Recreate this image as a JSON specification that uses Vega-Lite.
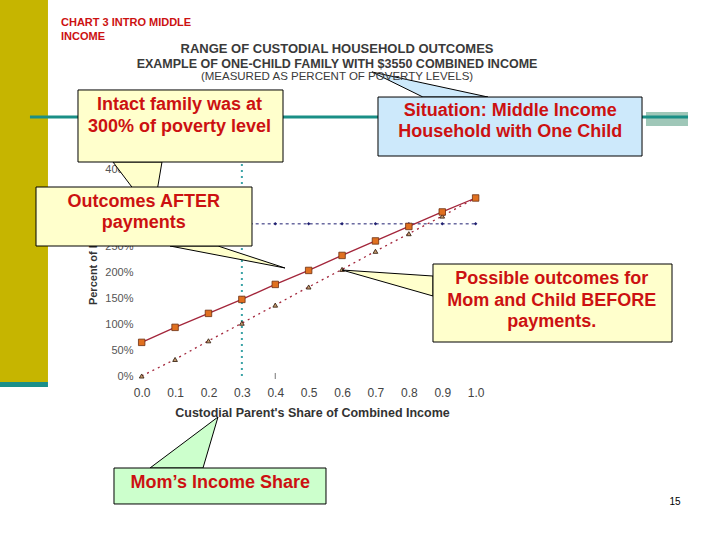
{
  "$schema": "https://vega.github.io/schema/vega-lite/v6.json",
  "description": "Range of custodial household outcomes, one-child family with $3550 combined income.",
  "autosize": {"type": "none"},
  "padding": {"left": 135, "top": 169, "right": 231, "bottom": 164},
  "width": 354,
  "height": 207,
  "background": "white",
  "config": {
    "view": {"stroke": null},
    "font": "Liberation Sans",
    "axis": {"grid": false, "ticks": false, "domain": false, "labelOverlap": false}
  },
  "data": {
    "values": [
      {"share": 0.0, "after": 65, "before": 0, "intact": 294},
      {"share": 0.1, "after": 94, "before": 32, "intact": 294},
      {"share": 0.2, "after": 121, "before": 68, "intact": 294},
      {"share": 0.3, "after": 148, "before": 102, "intact": 294},
      {"share": 0.4, "after": 177, "before": 137, "intact": 294},
      {"share": 0.5, "after": 204, "before": 172, "intact": 294},
      {"share": 0.6, "after": 233, "before": 206, "intact": 294},
      {"share": 0.7, "after": 261, "before": 241, "intact": 294},
      {"share": 0.8, "after": 289, "before": 275, "intact": 294},
      {"share": 0.9, "after": 317, "before": 309, "intact": 294},
      {"share": 1.0, "after": 344, "before": 344, "intact": 294}
    ]
  },
  "datasets": {
    "pointers": [
      {"id": "intact", "sx": -0.0859, "top": 413.5, "bottom": 413.5},
      {"id": "intact", "sx": 0.0339, "top": 413.5, "bottom": 311.1},
      {"id": "intact", "sx": 0.0608, "top": 413.5, "bottom": 413.5},
      {"id": "outcomes", "sx": 0.0848, "top": 251.2, "bottom": 251.2},
      {"id": "outcomes", "sx": 0.2286, "top": 251.2, "bottom": 233.4},
      {"id": "outcomes", "sx": 0.4291, "top": 208.7, "bottom": 208.7},
      {"id": "possible", "sx": 0.5998, "top": 204.8, "bottom": 204.8},
      {"id": "possible", "sx": 0.8723, "top": 193.2, "bottom": 154.6},
      {"id": "situation", "sx": 0.6895, "top": 587.5, "bottom": 587.5},
      {"id": "situation", "sx": 0.8422, "top": 566.2, "bottom": 539.1},
      {"id": "situation", "sx": 1.0368, "top": 539.1, "bottom": 539.1},
      {"id": "mom", "sx": 0.0249, "top": -177.8, "bottom": -177.8},
      {"id": "mom", "sx": 0.1836, "top": -101.0, "bottom": -177.8},
      {"id": "mom", "sx": 0.2285, "top": -79.2, "bottom": -79.2}
    ]
  },
  "layer": [
    {
      "data": {"values": [{}]},
      "mark": {"type": "rect", "fill": "#c6b500"},
      "encoding": {
        "x": {
          "datum": -0.4243,
          "type": "quantitative",
          "scale": {"domain": [-0.02, 1.04], "nice": false, "zero": false},
          "axis": {
            "title": "Custodial Parent's Share of Combined Income",
            "values": [0, 0.1, 0.2, 0.3, 0.4, 0.5, 0.6, 0.7, 0.8, 0.9, 1.0],
            "tickCount": 11,
            "format": ".1f",
            "tickSize": 0,
            "labelOverlap": false,
            "labelPadding": 11,
            "labelFontSize": 12,
            "labelColor": "#444444",
            "titleFontSize": 12.5,
            "titleFontWeight": "bold",
            "titleColor": "#333333",
            "titlePadding": 8
          }
        },
        "x2": {"datum": -0.2806},
        "y": {
          "datum": 726.6,
          "type": "quantitative",
          "scale": {"domain": [0, 400], "nice": false, "zero": false},
          "axis": {
            "title": "Percent of Poverty",
            "values": [0, 50, 100, 150, 200, 250, 400],
            "tickCount": 9,
            "labelExpr": "datum.value + '%'",
            "tickSize": 0,
            "labelOverlap": false,
            "labelPadding": 2,
            "labelFontSize": 11,
            "labelColor": "#555555",
            "titleFontSize": 11,
            "titleFontWeight": "bold",
            "titleColor": "#333333",
            "titleAngle": -90,
            "titleAlign": "center",
            "titleBaseline": "middle",
            "titleX": -42,
            "titleY": 87
          }
        },
        "y2": {"datum": -11.6}
      }
    },
    {
      "data": {"values": [{}]},
      "mark": {"type": "rect", "fill": "#1b8f8a"},
      "encoding": {
        "x": {"datum": -0.4243, "type": "quantitative"},
        "x2": {"datum": -0.2806},
        "y": {"datum": -11.6, "type": "quantitative"},
        "y2": {"datum": -21.3}
      }
    },
    {
      "data": {"values": [{}]},
      "mark": {"type": "rect", "fill": "#9fc7b8"},
      "encoding": {
        "x": {"datum": 1.5101, "type": "quantitative"},
        "x2": {"datum": 1.6359},
        "y": {"datum": 510.2, "type": "quantitative"},
        "y2": {"datum": 483.1}
      }
    },
    {
      "data": {"values": [{}]},
      "mark": {"type": "rule", "stroke": "#1a8f86", "strokeWidth": 3},
      "encoding": {
        "x": {"datum": -0.3345, "type": "quantitative"},
        "x2": {"datum": 1.6359},
        "y": {"datum": 500.5, "type": "quantitative"}
      }
    },
    {
      "data": {"values": [{}]},
      "mark": {"type": "rule", "stroke": "#3aa3a6", "strokeWidth": 2, "strokeDash": [2, 4]},
      "encoding": {
        "x": {"datum": 0.3, "type": "quantitative"},
        "y": {"datum": 0, "type": "quantitative"},
        "y2": {"datum": 420}
      }
    },
    {
      "data": {"values": [{}]},
      "mark": {"type": "rule", "stroke": "#777777", "strokeWidth": 1},
      "encoding": {
        "x": {"datum": 0.4, "type": "quantitative"},
        "y": {"datum": 5.8, "type": "quantitative"},
        "y2": {"datum": -5.8}
      }
    },
    {
      "mark": {"type": "line", "stroke": "#1f1f70", "strokeWidth": 1, "strokeDash": [3, 3]},
      "encoding": {
        "x": {"field": "share", "type": "quantitative"},
        "y": {"field": "intact", "type": "quantitative"}
      }
    },
    {
      "mark": {"type": "point", "shape": "diamond", "size": 12, "filled": true, "color": "#1f1f70", "opacity": 1},
      "encoding": {
        "x": {"field": "share", "type": "quantitative"},
        "y": {"field": "intact", "type": "quantitative"}
      }
    },
    {
      "mark": {"type": "line", "stroke": "#a3263b", "strokeWidth": 1.3, "strokeDash": [2, 4]},
      "encoding": {
        "x": {"field": "share", "type": "quantitative"},
        "y": {"field": "before", "type": "quantitative"}
      }
    },
    {
      "mark": {"type": "point", "shape": "triangle-up", "size": 22, "filled": true, "fill": "#c89c70", "stroke": "#3a2515", "strokeWidth": 0.9, "opacity": 1},
      "encoding": {
        "x": {"field": "share", "type": "quantitative"},
        "y": {"field": "before", "type": "quantitative"}
      }
    },
    {
      "mark": {"type": "line", "stroke": "#a3263b", "strokeWidth": 1.3},
      "encoding": {
        "x": {"field": "share", "type": "quantitative"},
        "y": {"field": "after", "type": "quantitative"}
      }
    },
    {
      "mark": {"type": "point", "shape": "square", "size": 42, "filled": true, "fill": "#e07020", "stroke": "#6b2e12", "strokeWidth": 0.8, "opacity": 1},
      "encoding": {
        "x": {"field": "share", "type": "quantitative"},
        "y": {"field": "after", "type": "quantitative"}
      }
    },
    {
      "data": {"name": "pointers"},
      "transform": [{"filter": {"field": "id", "oneOf": ["intact", "outcomes", "possible"]}}],
      "mark": {"type": "area", "orient": "vertical", "fill": "#ffffcc", "stroke": "black", "strokeWidth": 1, "opacity": 1, "fillOpacity": 1},
      "encoding": {
        "x": {"field": "sx", "type": "quantitative"},
        "y": {"field": "top", "type": "quantitative"},
        "y2": {"field": "bottom"},
        "detail": {"field": "id"}
      }
    },
    {
      "data": {"name": "pointers"},
      "transform": [{"filter": {"field": "id", "equal": "situation"}}],
      "mark": {"type": "area", "orient": "vertical", "fill": "#cde9fb", "stroke": "black", "strokeWidth": 1, "opacity": 1, "fillOpacity": 1},
      "encoding": {
        "x": {"field": "sx", "type": "quantitative"},
        "y": {"field": "top", "type": "quantitative"},
        "y2": {"field": "bottom"}
      }
    },
    {
      "data": {"name": "pointers"},
      "transform": [{"filter": {"field": "id", "equal": "mom"}}],
      "mark": {"type": "area", "orient": "vertical", "fill": "#ccffcc", "stroke": "black", "strokeWidth": 1, "opacity": 1, "fillOpacity": 1},
      "encoding": {
        "x": {"field": "sx", "type": "quantitative"},
        "y": {"field": "top", "type": "quantitative"},
        "y2": {"field": "bottom"}
      }
    },
    {
      "data": {"values": [{}]},
      "mark": {"type": "rect", "fill": "#ffffcc", "stroke": "black", "strokeWidth": 1},
      "encoding": {
        "x": {"datum": -0.1907, "type": "quantitative"},
        "x2": {"datum": 0.4232},
        "y": {"datum": 552.7, "type": "quantitative"},
        "y2": {"datum": 413.5}
      }
    },
    {
      "data": {"values": [{}]},
      "mark": {"type": "rect", "fill": "#cde9fb", "stroke": "black", "strokeWidth": 1},
      "encoding": {
        "x": {"datum": 0.7076, "type": "quantitative"},
        "x2": {"datum": 1.4982},
        "y": {"datum": 539.1, "type": "quantitative"},
        "y2": {"datum": 425.1}
      }
    },
    {
      "data": {"values": [{}]},
      "mark": {"type": "rect", "fill": "#ffffcc", "stroke": "black", "strokeWidth": 1},
      "encoding": {
        "x": {"datum": -0.3164, "type": "quantitative"},
        "x2": {"datum": 0.3303},
        "y": {"datum": 365.2, "type": "quantitative"},
        "y2": {"datum": 251.2}
      }
    },
    {
      "data": {"values": [{}]},
      "mark": {"type": "rect", "fill": "#ffffcc", "stroke": "black", "strokeWidth": 1},
      "encoding": {
        "x": {"datum": 0.8723, "type": "quantitative"},
        "x2": {"datum": 1.588},
        "y": {"datum": 216.4, "type": "quantitative"},
        "y2": {"datum": 65.7}
      }
    },
    {
      "data": {"values": [{}]},
      "mark": {"type": "rect", "fill": "#ccffcc", "stroke": "black", "strokeWidth": 1},
      "encoding": {
        "x": {"datum": -0.0829, "type": "quantitative"},
        "x2": {"datum": 0.5519},
        "y": {"datum": -177.8, "type": "quantitative"},
        "y2": {"datum": -247.3}
      }
    },
    {
      "data": {"values": [{}]},
      "mark": {"type": "text", "text": ["Intact family was at", "300% of poverty level"], "align": "center", "baseline": "middle", "fontSize": 18, "fontWeight": "bold", "color": "#cc1111", "lineHeight": 22},
      "encoding": {
        "x": {"datum": 0.1132, "type": "quantitative"},
        "y": {"datum": 523.7, "type": "quantitative"}
      }
    },
    {
      "data": {"values": [{}]},
      "mark": {"type": "text", "text": ["Situation: Middle Income", "Household with One Child"], "align": "center", "baseline": "middle", "fontSize": 18, "fontWeight": "bold", "color": "#cc1111", "lineHeight": 21},
      "encoding": {
        "x": {"datum": 1.1035, "type": "quantitative"},
        "y": {"datum": 512.1, "type": "quantitative"}
      }
    },
    {
      "data": {"values": [{}]},
      "mark": {"type": "text", "text": ["Outcomes AFTER", "payments"], "align": "center", "baseline": "middle", "fontSize": 18, "fontWeight": "bold", "color": "#cc1111", "lineHeight": 21},
      "encoding": {
        "x": {"datum": 0.0063, "type": "quantitative"},
        "y": {"datum": 336.2, "type": "quantitative"}
      }
    },
    {
      "data": {"values": [{}]},
      "mark": {"type": "text", "text": ["Possible outcomes for", "Mom and Child BEFORE", "payments."], "align": "center", "baseline": "middle", "fontSize": 18, "fontWeight": "bold", "color": "#cc1111", "lineHeight": 21.5},
      "encoding": {
        "x": {"datum": 1.2277, "type": "quantitative"},
        "y": {"datum": 187.4, "type": "quantitative"}
      }
    },
    {
      "data": {"values": [{}]},
      "mark": {"type": "text", "text": "Mom’s Income Share", "align": "center", "baseline": "middle", "fontSize": 18, "fontWeight": "bold", "color": "#cc1111"},
      "encoding": {
        "x": {"datum": 0.2354, "type": "quantitative"},
        "y": {"datum": -206.8, "type": "quantitative"}
      }
    },
    {
      "data": {"values": [{}]},
      "mark": {"type": "text", "text": ["CHART 3 INTRO MIDDLE", "INCOME"], "align": "left", "baseline": "middle", "fontSize": 11, "fontWeight": "bold", "color": "#cc1111", "lineHeight": 14},
      "encoding": {
        "x": {"datum": -0.2416, "type": "quantitative"},
        "y": {"datum": 682.1, "type": "quantitative"}
      }
    },
    {
      "data": {"values": [{}]},
      "mark": {"type": "text", "text": "RANGE OF CUSTODIAL HOUSEHOLD OUTCOMES", "align": "center", "baseline": "middle", "fontSize": 13, "fontWeight": "bold", "color": "#3a3a3a"},
      "encoding": {
        "x": {"datum": 0.5849, "type": "quantitative"},
        "y": {"datum": 631.9, "type": "quantitative"}
      }
    },
    {
      "data": {"values": [{}]},
      "mark": {"type": "text", "text": "EXAMPLE OF ONE-CHILD FAMILY WITH $3550 COMBINED INCOME", "align": "center", "baseline": "middle", "fontSize": 12.5, "fontWeight": "bold", "color": "#3a3a3a"},
      "encoding": {
        "x": {"datum": 0.5849, "type": "quantitative"},
        "y": {"datum": 602.9, "type": "quantitative"}
      }
    },
    {
      "data": {"values": [{}]},
      "mark": {"type": "text", "text": "(MEASURED AS PERCENT OF POVERTY LEVELS)", "align": "center", "baseline": "middle", "fontSize": 11.5, "color": "#3a3a3a"},
      "encoding": {
        "x": {"datum": 0.5849, "type": "quantitative"},
        "y": {"datum": 577.8, "type": "quantitative"}
      }
    },
    {
      "data": {"values": [{}]},
      "mark": {"type": "text", "text": "15", "align": "center", "baseline": "middle", "fontSize": 10, "color": "black"},
      "encoding": {
        "x": {"datum": 1.5969, "type": "quantitative"},
        "y": {"datum": -243.5, "type": "quantitative"}
      }
    }
  ]
}
